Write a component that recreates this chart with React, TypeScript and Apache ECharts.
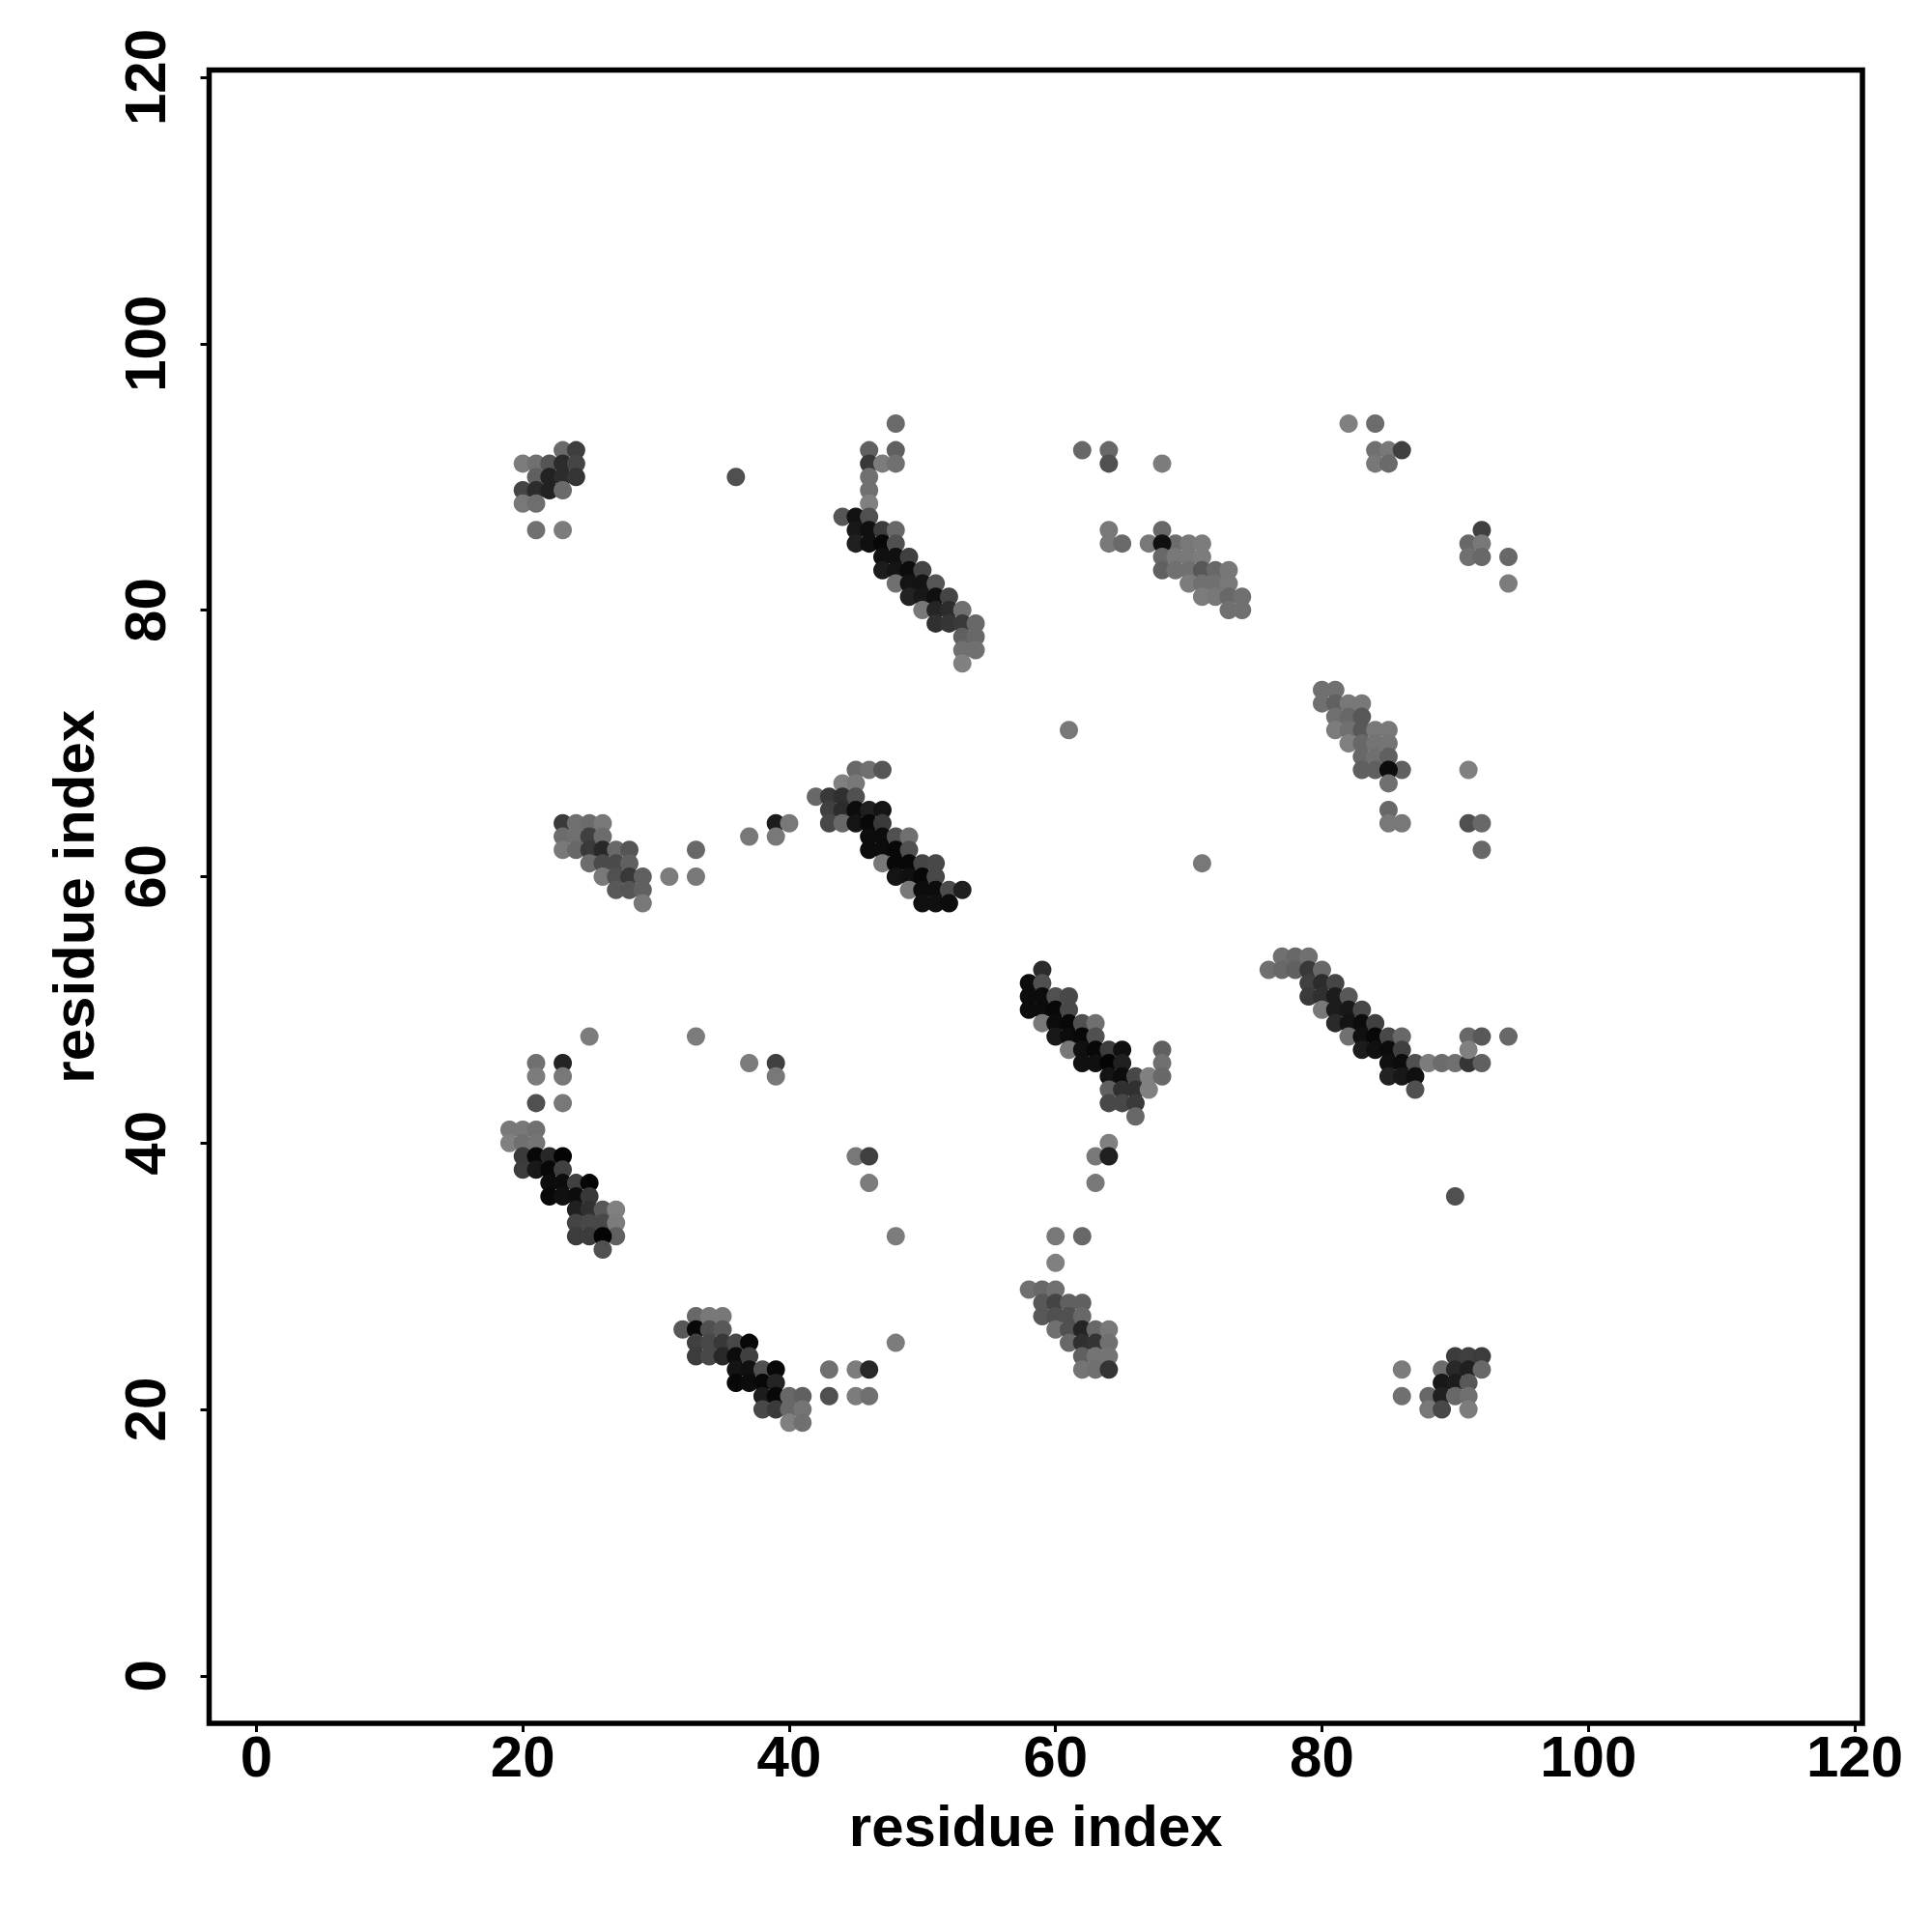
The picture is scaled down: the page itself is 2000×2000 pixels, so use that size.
import React, { useEffect, useRef } from "react";
import * as echarts from "echarts";

type P = [number, number, number];

const tickValues = [0, 20, 40, 60, 80, 100, 120];
const axisTitle = "residue index";

const topLeft: P[] = [
  [23,92,0x6a],[24,92,0x3e],
  [20,91,0x7c],[21,91,0x70],[22,91,0x55],[23,91,0x2c],[24,91,0x45],
  [21,90,0x60],[22,90,0x22],[23,90,0x2c],[24,90,0x35],
  [20,89,0x45],[21,89,0x2c],[22,89,0x22],[23,89,0x6a],
  [20,88,0x78],[21,88,0x6e],
  [21,86,0x70],[23,86,0x7c],
  [36,90,0x50],
];
const topHelix: P[] = [
  [48,94,0x6a],[46,92,0x60],[48,92,0x60],
  [46,91,0x38],[47,91,0x7c],[48,91,0x70],
  [46,90,0x70],[46,89,0x70],[46,88,0x80],
  [44,87,0x55],[45,87,0x12],[46,87,0x50],
  [45,86,0x18],[46,86,0x10],[47,86,0x3c],[48,86,0x68],
  [45,85,0x20],[46,85,0x10],[47,85,0x08],[48,85,0x50],
  [47,84,0x10],[48,84,0x10],[49,84,0x40],
  [47,83,0x1c],[48,83,0x14],[49,83,0x0c],[50,83,0x45],
  [48,82,0x70],[49,82,0x14],[50,82,0x14],[51,82,0x55],
  [49,81,0x22],[50,81,0x18],[51,81,0x10],[52,81,0x45],
  [50,80,0x78],[51,80,0x25],[52,80,0x2c],[53,80,0x70],
  [51,79,0x30],[52,79,0x35],[53,79,0x3a],[54,79,0x68],
  [53,78,0x60],[54,78,0x68],[53,77,0x70],[54,77,0x70],[53,76,0x80],
];
const topRight: P[] = [
  [82,94,0x80],[84,94,0x6c],
  [62,92,0x68],[64,92,0x68],[84,92,0x70],[85,92,0x78],[86,92,0x40],
  [64,91,0x50],[68,91,0x7c],[84,91,0x78],[85,91,0x6a],
  [64,86,0x78],[68,86,0x68],[92,86,0x40],
  [64,85,0x78],[65,85,0x6a],[67,85,0x78],[69,85,0x6c],[70,85,0x78],[71,85,0x7c],[91,85,0x68],[92,85,0x78],
  [68,85,0x10],
  [68,84,0x68],[69,84,0x78],[70,84,0x78],[71,84,0x7c],[91,84,0x70],[92,84,0x68],[94,84,0x68],
  [68,83,0x60],[69,83,0x70],[70,83,0x70],[71,83,0x58],[72,83,0x68],[73,83,0x78],
  [70,82,0x7c],[71,82,0x70],[72,82,0x70],[73,82,0x78],[94,82,0x7c],
  [71,81,0x7c],[72,81,0x78],[73,81,0x68],[74,81,0x70],
  [73,80,0x70],[74,80,0x70],
];
const midLeft: P[] = [
  [23,64,0x3a],[24,64,0x70],[25,64,0x6c],[26,64,0x78],
  [23,63,0x6c],[24,63,0x70],[25,63,0x40],[26,63,0x6c],
  [23,62,0x78],[24,62,0x68],[25,62,0x3a],[26,62,0x28],[27,62,0x68],[28,62,0x55],
  [25,61,0x6c],[26,61,0x4a],[27,61,0x4a],[28,61,0x60],
  [26,60,0x78],[27,60,0x50],[28,60,0x38],[29,60,0x60],
  [27,59,0x58],[28,59,0x55],[29,59,0x60],[29,58,0x78],
  [33,62,0x68],[31,60,0x7c],[33,60,0x78],
  [39,64,0x1c],[40,64,0x78],[37,63,0x78],[39,63,0x78],
];
const midHelix: P[] = [
  [45,68,0x68],[46,68,0x70],[47,68,0x55],
  [44,67,0x80],[45,67,0x78],
  [42,66,0x68],[43,66,0x38],[44,66,0x30],[45,66,0x50],
  [43,65,0x40],[44,65,0x2c],[45,65,0x0c],[46,65,0x20],[47,65,0x14],
  [43,64,0x48],[44,64,0x68],[45,64,0x14],[46,64,0x08],[47,64,0x3a],
  [46,63,0x0c],[47,63,0x0c],[48,63,0x50],[49,63,0x70],
  [46,62,0x0c],[47,62,0x0c],[48,62,0x08],[49,62,0x50],
  [47,61,0x78],[48,61,0x08],[49,61,0x08],[50,61,0x45],[51,61,0x48],
  [48,60,0x14],[49,60,0x10],[50,60,0x08],[51,60,0x48],
  [49,59,0x78],[50,59,0x0c],[51,59,0x0c],[52,59,0x4c],[53,59,0x20],
  [50,58,0x10],[51,58,0x10],[52,58,0x0c],
];
const midRight: P[] = [
  [80,74,0x70],[81,74,0x70],
  [80,73,0x70],[81,73,0x60],[82,73,0x78],[83,73,0x78],
  [81,72,0x70],[82,72,0x68],[83,72,0x58],
  [81,71,0x7c],[82,71,0x70],[83,71,0x58],[84,71,0x78],[85,71,0x78],
  [82,70,0x80],[83,70,0x68],[84,70,0x74],[85,70,0x74],
  [83,69,0x68],[84,69,0x70],[85,69,0x60],
  [83,68,0x60],[84,68,0x60],[86,68,0x60],[85,68,0x0c],[91,68,0x80],
  [85,67,0x70],[85,65,0x68],
  [85,64,0x78],[86,64,0x78],[91,64,0x50],[92,64,0x68],[92,62,0x68],
  [61,71,0x78],[71,61,0x78],
];
const centerHelix: P[] = [
  [59,53,0x2c],[58,52,0x0c],[59,52,0x50],
  [58,51,0x0c],[59,51,0x0c],[60,51,0x50],[61,51,0x48],
  [58,50,0x0c],[59,50,0x0c],[60,50,0x08],[61,50,0x48],
  [59,49,0x78],[60,49,0x0c],[61,49,0x08],[62,49,0x50],[63,49,0x70],
  [60,48,0x18],[61,48,0x0c],[62,48,0x08],[63,48,0x50],
  [61,47,0x78],[62,47,0x10],[63,47,0x08],[64,47,0x3c],[65,47,0x10],[68,47,0x60],
  [62,46,0x10],[63,46,0x10],[64,46,0x04],[65,46,0x20],[68,46,0x70],
  [64,45,0x14],[65,45,0x0c],[66,45,0x48],[67,45,0x80],[68,45,0x68],
  [64,44,0x60],[65,44,0x30],[66,44,0x30],[67,44,0x80],
  [64,43,0x48],[65,43,0x48],[66,43,0x3a],[66,42,0x68],
  [64,40,0x80],[63,39,0x78],[64,39,0x20],[63,37,0x78],
];
const rightHelix: P[] = [
  [77,54,0x70],[78,54,0x68],[79,54,0x70],
  [76,53,0x70],[77,53,0x68],[78,53,0x60],[79,53,0x38],[80,53,0x68],
  [79,52,0x40],[80,52,0x2c],[81,52,0x45],
  [79,51,0x3a],[80,51,0x30],[81,51,0x1c],[82,51,0x58],
  [80,50,0x78],[81,50,0x1c],[82,50,0x18],[83,50,0x48],
  [81,49,0x2a],[82,49,0x14],[83,49,0x0c],[84,49,0x40],
  [82,48,0x70],[83,48,0x10],[84,48,0x08],[85,48,0x48],[86,48,0x68],
  [83,47,0x1c],[84,47,0x10],[85,47,0x0c],[86,47,0x40],
  [85,46,0x10],[86,46,0x0c],[87,46,0x50],[88,46,0x7c],[89,46,0x6c],[90,46,0x70],[91,46,0x35],[92,46,0x60],
  [85,45,0x22],[86,45,0x18],[87,45,0x10],[87,44,0x50],
  [91,48,0x68],[92,48,0x58],[94,48,0x68],[91,47,0x80],
  [90,36,0x50],
];
const lowLeft: P[] = [
  [25,48,0x7c],[33,48,0x7c],
  [21,46,0x70],[23,46,0x24],[37,46,0x7c],[39,46,0x40],
  [21,45,0x7c],[23,45,0x78],[39,45,0x78],
  [21,43,0x50],[23,43,0x78],
  [19,41,0x78],[20,41,0x78],[21,41,0x70],
  [19,40,0x80],[20,40,0x70],[21,40,0x74],
  [20,39,0x3a],[21,39,0x08],[22,39,0x28],[23,39,0x04],[45,39,0x78],[46,39,0x40],
  [20,38,0x3c],[21,38,0x18],[22,38,0x08],[23,38,0x40],
  [22,37,0x0c],[23,37,0x0c],[24,37,0x40],[25,37,0x04],[46,37,0x7c],
  [22,36,0x08],[23,36,0x10],[24,36,0x0c],[25,36,0x38],
  [24,35,0x20],[25,35,0x30],[26,35,0x58],[27,35,0x80],
  [24,34,0x44],[25,34,0x48],[26,34,0x48],[27,34,0x7c],
  [24,33,0x3c],[25,33,0x3c],[27,33,0x60],[26,33,0x04],[48,33,0x7c],
  [26,32,0x50],
];
const bottomLeft: P[] = [
  [33,27,0x68],[34,27,0x78],[35,27,0x78],
  [32,26,0x58],[33,26,0x08],[34,26,0x50],[35,26,0x58],
  [33,25,0x40],[34,25,0x48],[35,25,0x38],[36,25,0x48],[37,25,0x08],[48,25,0x7c],
  [33,24,0x3c],[34,24,0x48],[35,24,0x28],[36,24,0x0c],[37,24,0x40],
  [36,23,0x14],[37,23,0x10],[38,23,0x50],[39,23,0x08],[43,23,0x70],[45,23,0x7c],[46,23,0x28],
  [36,22,0x08],[37,22,0x0c],[38,22,0x08],[39,22,0x24],
  [38,21,0x1c],[39,21,0x08],[40,21,0x68],[41,21,0x60],[43,21,0x50],[45,21,0x7c],[46,21,0x70],
  [38,20,0x48],[39,20,0x3a],[40,20,0x68],[41,20,0x74],
  [40,19,0x80],[41,19,0x70],
];
const bottomMid: P[] = [
  [60,33,0x78],[62,33,0x68],[60,31,0x80],
  [58,29,0x70],[59,29,0x68],[60,29,0x70],
  [59,28,0x58],[60,28,0x44],[61,28,0x60],[62,28,0x60],
  [59,27,0x58],[60,27,0x50],[61,27,0x50],[62,27,0x68],
  [60,26,0x70],[61,26,0x50],[62,26,0x24],[63,26,0x68],[64,26,0x78],
  [61,25,0x68],[62,25,0x30],[63,25,0x34],[64,25,0x70],
  [62,24,0x60],[63,24,0x74],[64,24,0x74],
  [62,23,0x74],[63,23,0x70],[64,23,0x34],
];
const bottomRight: P[] = [
  [90,24,0x3c],[91,24,0x40],[92,24,0x3c],
  [86,23,0x7c],[89,23,0x6c],[90,23,0x28],[91,23,0x20],[92,23,0x68],
  [89,22,0x18],[90,22,0x1c],[91,22,0x58],
  [86,21,0x70],[88,21,0x68],[89,21,0x20],[90,21,0x68],[91,21,0x70],
  [88,20,0x78],[89,20,0x48],[91,20,0x7c],
];

const allPoints: P[] = [
  ...topLeft, ...topHelix, ...topRight, ...midLeft, ...midHelix, ...midRight,
  ...centerHelix, ...rightHelix, ...lowLeft, ...bottomLeft, ...bottomMid, ...bottomRight,
];

const FONT = "Liberation Sans";

export default function App() {
  const ref = useRef<HTMLDivElement>(null);
  useEffect(() => {
    const chart = echarts.init(ref.current!, undefined, { renderer: "svg" });
    const axisCommon = {
      type: "value" as const,
      name: axisTitle,
      nameLocation: "middle" as const,
      nameTextStyle: { fontFamily: FONT, fontWeight: "bold" as const, fontSize: 60, color: "#000" },
      splitLine: { show: false },
      axisLine: { show: false, onZero: false },
      axisTick: { show: true, length: 9, inside: false, lineStyle: { color: "#000", width: 3 }, customValues: tickValues },
    };
    const labelCommon = {
      show: true,
      fontFamily: FONT,
      fontWeight: "bold" as const,
      fontSize: 60,
      color: "#000",
      customValues: tickValues,
      hideOverlap: false,
    };
    chart.setOption({
      animation: false,
      backgroundColor: "#fff",
      grid: {
        left: 216.5,
        right: 72,
        top: 72.5,
        bottom: 216,
        show: true,
        borderColor: "#000",
        borderWidth: 5.5,
        backgroundColor: "transparent",
      },
      xAxis: {
        ...axisCommon,
        min: -3.55,
        max: 120.58,
        nameGap: 76,
        axisLabel: { ...labelCommon, margin: 4 },
      },
      yAxis: {
        ...axisCommon,
        min: -3.56,
        max: 120.54,
        nameGap: 110,
        nameRotate: 90,
        axisLabel: { ...labelCommon, rotate: 90, margin: 36 },
      },
      series: [
        {
          type: "scatter",
          symbol: "circle",
          symbolSize: 19,
          data: allPoints,
          clip: false,
          itemStyle: {
            opacity: 1,
            color: (p: any) => {
              const g = p.value[2];
              return `rgb(${g},${g},${g})`;
            },
          },
        },
      ],
    });
    return () => chart.dispose();
  }, []);
  return <div ref={ref} style={{ position: "absolute", left: 0, top: 0, width: 2000, height: 2000 }} />;
}
